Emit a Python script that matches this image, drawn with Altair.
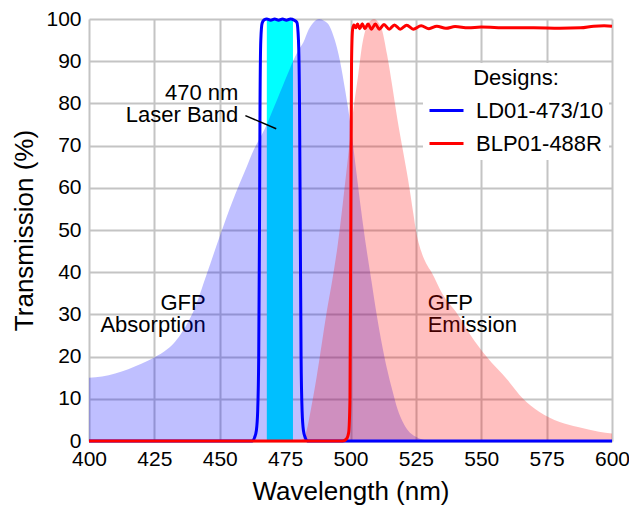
import altair as alt
import pandas as pd

# ---------------- data ----------------
abs_wl = [400, 405, 410, 415, 420, 425, 430, 433, 436, 440, 445, 450, 455, 460, 463,
          466, 468, 470, 472, 474, 476, 478, 480, 482, 484, 486, 488, 490, 492, 494,
          496, 498, 500, 502, 504, 506, 508, 510, 512, 514, 516, 518, 520, 522, 525, 530]
abs_val = [15, 15.3, 16, 17, 18.3, 19.8, 21.8, 23.6, 26.2, 30.8, 39.5, 48.5, 57, 64.5, 69,
           72.5, 75, 78, 81, 84, 87, 90, 92.5, 94.5, 97.5, 99.3, 100, 99.5, 98.3, 95,
           90, 83, 75, 65, 55, 46, 38, 30, 23, 17, 12, 7.5, 4.5, 2.5, 1, 0]

em_wl = [481, 483, 485, 487, 489, 491, 493, 495, 497, 499, 501, 503, 504.5, 506, 507.5,
         509, 510.5, 512, 514, 516, 518, 520, 522, 524, 525, 527, 529, 531, 535, 541,
         546, 552, 560, 566, 572, 580, 587, 595, 600]
em_val = [0, 2, 8, 15, 23, 31, 38, 46, 56, 67, 78, 87, 94, 98, 99.5,
          100, 99.3, 97.5, 91.5, 84, 76, 69, 62, 54, 50, 45, 42, 40, 35, 30,
          25, 20, 14.5, 10, 7, 4.5, 3.3, 2.2, 1.8]

ld_wl = [400, 462.5, 463.3, 464, 464.5, 464.9, 465.2, 465.4, 465.7, 466.2, 467, 468,
         469.5, 471, 472.5, 474, 475.5, 477, 478.5, 479.5, 480.1, 480.5, 480.8, 481.1,
         481.5, 482, 482.7, 483.5, 600]
ld_val = [0, 0, 0.8, 2.5, 7, 20, 50, 80, 95, 99, 99.8, 100,
          99.7, 100, 99.7, 100, 99.7, 100, 99.7, 99.2, 95, 80, 50, 20,
          7, 2.5, 0.8, 0, 0]

blp_wl = [400, 497, 498.5, 499.3, 499.8, 500.1, 500.4, 500.8, 501.3, 502, 502.7, 503.5,
          504.5, 505.5, 506.7, 508, 509.5, 511, 512.8, 514.8, 516.8, 519, 521.5, 524,
          527, 530, 533, 536.5, 540, 545, 550, 560, 570, 580, 588, 593, 597, 600]
blp_val = [0, 0, 0.5, 2, 10, 50, 90, 97.5, 98.6, 97.9, 98.8, 97.7,
           98.9, 97.7, 98.8, 97.6, 98.8, 97.6, 98.7, 97.6, 98.6, 97.6, 98.5, 97.6,
           98.4, 97.7, 98.3, 97.8, 98.2, 97.9, 98.1, 97.9, 97.9, 97.8, 97.9, 98.3, 98.4, 98.3]

laser_band = [468, 478]
design_names = ["LD01-473/10", "BLP01-488R"]
design_colors = ["#0000ff", "#ff0000"]

x_ticks = [400, 425, 450, 475, 500, 525, 550, 575, 600]
y_ticks = [0, 10, 20, 30, 40, 50, 60, 70, 80, 90, 100]

note_r_text = ["470 nm", "Laser Band", "GFP", "Absorption"]
note_r_x = [457.1, 457.1, 444.6, 444.6]
note_r_y = [82.5, 77.3, 32.6, 27.4]
note_l_text = ["GFP", "Emission"]
note_l_x = [529.5, 529.5]
note_l_y = [32.6, 27.4]
leader_x = [459.8, 471.6]
leader_y = [77.1, 74.0]

FONT = "Liberation Sans"

# ---------------- tables ----------------
abs_df = pd.DataFrame({"wl": abs_wl, "val": abs_val})
em_df = pd.DataFrame({"wl": em_wl, "val": em_val})
ld_df = pd.DataFrame({"wl": ld_wl, "val": ld_val, "design": design_names[0]})
blp_df = pd.DataFrame({"wl": blp_wl, "val": blp_val, "design": design_names[1]})
band_df = pd.DataFrame({"wl": [laser_band[0]], "wl2": [laser_band[1]], "val": [0], "val2": [100]})
nr_df = pd.DataFrame({"wl": note_r_x, "val": note_r_y, "t": note_r_text})
nl_df = pd.DataFrame({"wl": note_l_x, "val": note_l_y, "t": note_l_text})
lead_df = pd.DataFrame({"wl": [leader_x[0]], "wl2": [leader_x[1]],
                        "val": [leader_y[0]], "val2": [leader_y[1]]})

xscale = alt.Scale(domain=[400, 600], nice=False, zero=False)
yscale = alt.Scale(domain=[0, 100], nice=False)
xaxis = alt.Axis(values=x_ticks, grid=True, domain=False, ticks=False, labelPadding=7,
                 titlePadding=9, labelFontSize=21, titleFontSize=26, labelFlush=False)
yaxis = alt.Axis(values=y_ticks, grid=True, domain=False, ticks=False, labelPadding=8,
                 titlePadding=8, labelFontSize=21, titleFontSize=26)

X = alt.X("wl:Q", scale=xscale, axis=xaxis, title="Wavelength (nm)")
Y = alt.Y("val:Q", scale=yscale, axis=yaxis, title="Transmission (%)")

band = alt.Chart(band_df).mark_rect(color="#00ffff").encode(
    x=X, x2="wl2:Q", y=Y, y2="val2:Q")

notes_r = alt.Chart(nr_df).mark_text(align="right", baseline="middle", fontSize=22,
                                     color="black", font=FONT).encode(x=X, y=Y, text="t:N")
notes_l = alt.Chart(nl_df).mark_text(align="left", baseline="middle", fontSize=22,
                                     color="black", font=FONT).encode(x=X, y=Y, text="t:N")

absorb = alt.Chart(abs_df).mark_area(color="#0000ff", opacity=0.25,
                                     interpolate="monotone").encode(x=X, y=Y)
emit = alt.Chart(em_df).mark_area(color="#ff0000", opacity=0.25,
                                  interpolate="monotone").encode(x=X, y=Y)

color = alt.Color("design:N",
                  scale=alt.Scale(domain=design_names, range=design_colors),
                  legend=alt.Legend(title="Designs:", orient="none", legendX=334, legendY=44,
                                    fillColor="white", padding=5, titleAnchor="middle",
                                    titleFontSize=22, titleFontWeight="normal",
                                    titleColor="black", titlePadding=2, titleFont=FONT,
                                    labelFontSize=22, labelColor="black", labelFont=FONT,
                                    symbolType="stroke", symbolSize=1156,
                                    symbolStrokeWidth=3, labelOffset=11, rowPadding=3))

ld_line = alt.Chart(ld_df).mark_line(strokeWidth=3, interpolate="monotone").encode(
    x=X, y=Y, color=color)
blp_line = alt.Chart(blp_df).mark_line(strokeWidth=3, interpolate="monotone").encode(
    x=X, y=Y, color=color)

leader = alt.Chart(lead_df).mark_rule(color="black", strokeWidth=1.5).encode(
    x=X, x2="wl2:Q", y=Y, y2="val2:Q")

chart = alt.layer(band, notes_r, notes_l, absorb, emit, ld_line, blp_line, leader).properties(
    width=523, height=422,
    autosize=alt.AutoSizeParams(type="none"),
    padding={"left": 81, "top": 11, "right": 17, "bottom": 64},
).configure(font=FONT).configure_view(stroke=None).configure_axis(
    gridColor="#c4c4c4", gridWidth=2, labelColor="black", titleColor="black",
    titleFontWeight="normal", labelFont=FONT, titleFont=FONT)

chart.save("out.html", embed_options={"renderer": "svg", "actions": False})
